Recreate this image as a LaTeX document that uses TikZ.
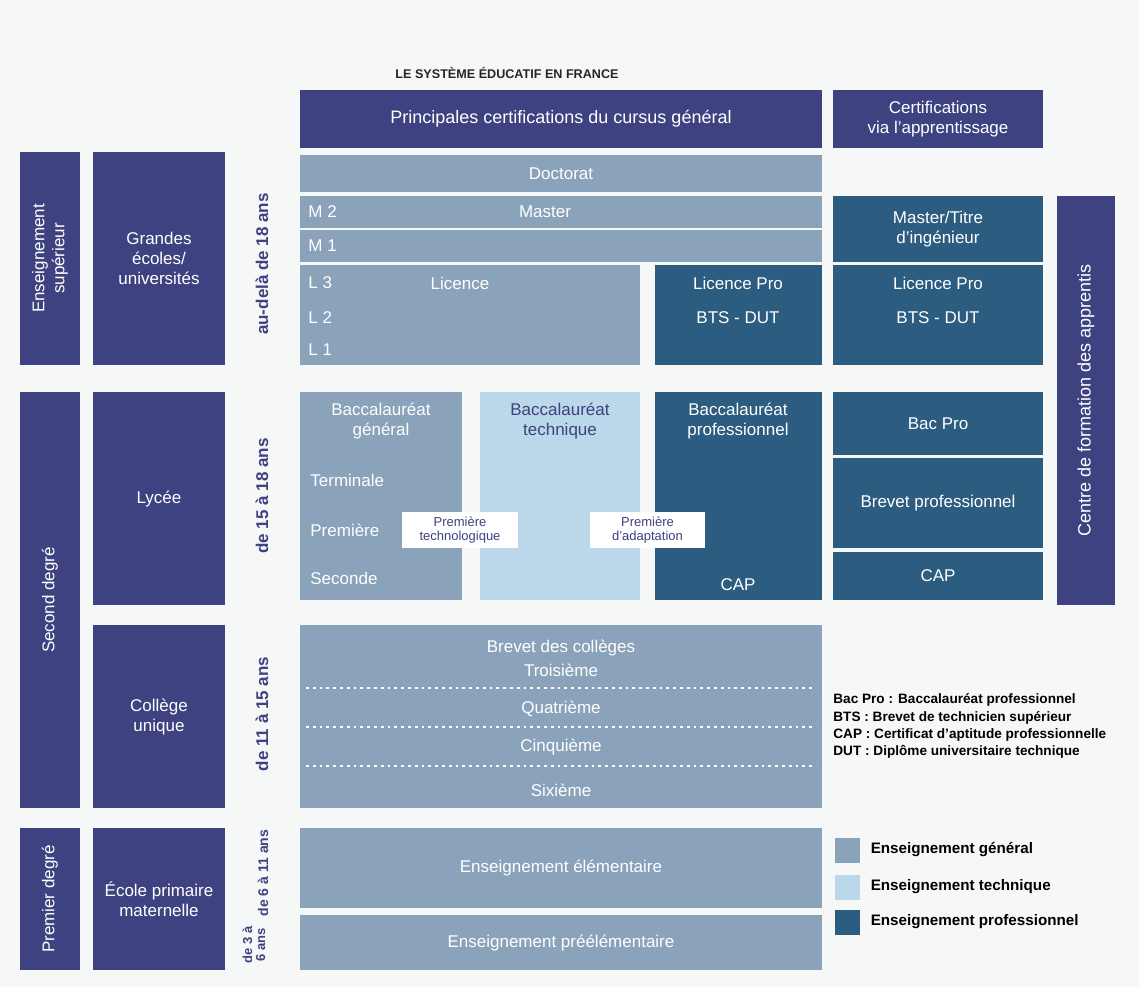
\documentclass[tikz,border=0pt]{standalone}
\usepackage{fontspec}
\setmainfont{Liberation Sans}
\usepackage{xcolor}
\usetikzlibrary{positioning}

\definecolor{navy}{RGB}{62,66,128}
\definecolor{genbl}{RGB}{138,163,187}
\definecolor{techbl}{RGB}{186,216,233}
\definecolor{probl}{RGB}{44,93,128}
\definecolor{paper}{RGB}{246,247,247}

\begin{document}
\begin{tikzpicture}[
  x=0.5pt, y=-0.5pt,
  box/.style={inner sep=0pt, align=center, text=white, font=\fontsize{8.5}{10}\selectfont},
  nav/.style={box, fill=navy},
  gen/.style={box, fill=genbl},
  tec/.style={box, fill=techbl, text=navy},
  pro/.style={box, fill=probl},
  wbox/.style={box, fill=white, text=navy, font=\fontsize{6.5}{7}\selectfont},
  lbl/.style={inner sep=0pt, align=center, text=white, font=\fontsize{8.5}{10}\selectfont},
  agelbl/.style={inner sep=0pt, rotate=90, align=center, text=navy, font=\bfseries\fontsize{8.5}{9}\selectfont},
  note/.style={inner sep=0pt, anchor=west, font=\bfseries\fontsize{6.8}{8}\selectfont},
  key/.style={minimum width=12.5pt, minimum height=12.5pt, inner sep=0pt}]
\useasboundingbox (0,0) rectangle (1139,987);
\fill[paper] (0,0) rectangle (1139,987);

\node[inner sep=0pt, text=black!85, font=\bfseries\fontsize{6.3}{8}\selectfont] (title) at (507,73) {LE SYSTÈME ÉDUCATIF EN FRANCE};
\node[nav, minimum width=261pt, minimum height=29pt, font=\fontsize{9}{10}\selectfont] (hgen) at (561,119) {Principales certifications du cursus général};
\node[nav, minimum width=105pt, minimum height=29pt] (happ) at (938,119) {Certifications\\via l'apprentissage};

% enseignement superieur
\node[nav, minimum width=30pt, minimum height=106.5pt] (sup) at (50,258.5) {};
\node[lbl, rotate=90] at (sup) {Enseignement\\supérieur};
\node[nav, minimum width=66pt, minimum height=106.5pt] (ge) at (159,258.5) {Grandes\\écoles/\\universités};
\node[agelbl] (a18) at (262,264) {au-delà de 18 ans};
\node[gen, minimum width=261pt, minimum height=18.5pt] (doc) at (561,173.5) {Doctorat};
\node[gen, minimum width=261pt, minimum height=16pt] (m2) at (561,212) {};
\node[lbl] at (545,212) {Master};
\node[gen, minimum width=261pt, minimum height=16pt] (m1) at (561,246) {};
\node[gen, minimum width=170pt, minimum height=50pt] (lic) at (470,315) {};
\node[lbl] at (460,283) {Licence};
\foreach \n/\y in {M 2/212,M 1/246,L 3/283,L 2/318,L 1/350}
  \node[lbl, anchor=west] at (308,\y) {\n};
\node[pro, minimum width=83.5pt, minimum height=50pt] (lpro) at (738.5,315) {};
\node[lbl] at (738,283) {Licence Pro};
\node[lbl] at (738,318) {BTS - DUT};
\node[pro, minimum width=105pt, minimum height=33pt] (amas) at (938,229) {Master/Titre\\d'ingénieur};
\node[pro, minimum width=105pt, minimum height=50pt] (alpro) at (938,315) {};
\node[lbl] at (938,283) {Licence Pro};
\node[lbl] at (938,318) {BTS - DUT};
\node[nav, minimum width=29pt, minimum height=204.5pt] (cfa) at (1086,400.5) {};
\node[lbl, rotate=90, font=\fontsize{9}{10}\selectfont] at (cfa) {Centre de formation des apprentis};

% second degre
\node[nav, minimum width=30pt, minimum height=208pt] (second) at (50,600) {};
\node[lbl, rotate=90] at (second) {Second degré};
\node[nav, minimum width=66pt, minimum height=106.5pt] (lycee) at (159,498.5) {Lycée};
\node[nav, minimum width=66pt, minimum height=91.5pt] (coll) at (159,716.5) {Collège\\unique};
\node[agelbl] (a15) at (262,496) {de 15 à 18 ans};
\node[agelbl] (a11) at (262,714) {de 11 à 15 ans};

\node[gen, minimum width=81pt, minimum height=104pt] (bgen) at (381,496) {};
\node[lbl] at (381,421) {Baccalauréat\\général};
\foreach \n/\y in {Terminale/480,Première/530,Seconde/578}
  \node[lbl, anchor=west] at (310,\y) {\n};
\node[tec, minimum width=80pt, minimum height=104pt] (btech) at (560,496) {};
\node[lbl, text=navy] at (560,421) {Baccalauréat\\technique};
\node[pro, minimum width=83.5pt, minimum height=104pt] (bpro) at (738.5,496) {};
\node[lbl] at (738,421) {Baccalauréat\\professionnel};
\node[lbl] at (738,585) {CAP};
\node[wbox, minimum width=58pt, minimum height=18pt] (ptech) at (460,530) {Première\\technologique};
\node[wbox, minimum width=57.5pt, minimum height=18pt] (padapt) at (647.5,530) {Première\\d'adaptation};
\node[pro, minimum width=105pt, minimum height=31.5pt] (abac) at (938,423.5) {Bac Pro};
\node[pro, minimum width=105pt, minimum height=45pt] (abp) at (938,503) {Brevet professionnel};
\node[pro, minimum width=105pt, minimum height=24pt] (acap) at (938,576) {CAP};

% college
\node[gen, minimum width=261pt, minimum height=91.5pt] (col) at (561,716.5) {};
\foreach \n/\y in {Brevet des collèges/648,Troisième/670,Quatrième/709,Cinquième/747,Sixième/790}
  \node[lbl] at (561,\y) {\n};
\foreach \y in {688,727,766}
  \draw[white, dotted, line width=1.4pt] (306,\y) -- (816,\y);

% premier degre
\node[nav, minimum width=30pt, minimum height=71pt] (premier) at (50,899) {};
\node[lbl, rotate=90] at (premier) {Premier degré};
\node[nav, minimum width=66pt, minimum height=71pt] (prim) at (159,899) {École primaire\\maternelle};
\node[agelbl, font=\bfseries\fontsize{7}{7.5}\selectfont] (a6) at (263,873) {de 6 à 11 ans};
\node[agelbl, font=\bfseries\fontsize{6.5}{6.5}\selectfont] (a3) at (254,945) {de 3 à\\6 ans};
\node[gen, minimum width=261pt, minimum height=40pt] (elem) at (561,868) {Enseignement élémentaire};
\node[gen, minimum width=261pt, minimum height=27.5pt] (pre) at (561,942.5) {Enseignement préélémentaire};

% legende
\foreach \t/\y in {Bac Pro : Baccalauréat professionnel/700,BTS : Brevet de technicien supérieur/718,CAP : Certificat d'aptitude professionnelle/735,DUT : Diplôme universitaire technique/752}
  \node[note] at (833,\y) {\t};
\node[key, fill=genbl] (kgen) at (847.5,850) {};
\node[key, fill=techbl] (ktec) at (847.5,887) {};
\node[key, fill=probl] (kpro) at (847.5,922) {};
\node[note, font=\bfseries\fontsize{7.6}{9}\selectfont, right=5pt of kgen] {Enseignement général};
\node[note, font=\bfseries\fontsize{7.6}{9}\selectfont, right=5pt of ktec] {Enseignement technique};
\node[note, font=\bfseries\fontsize{7.6}{9}\selectfont, right=5pt of kpro] {Enseignement professionnel};
\end{tikzpicture}
\end{document}
